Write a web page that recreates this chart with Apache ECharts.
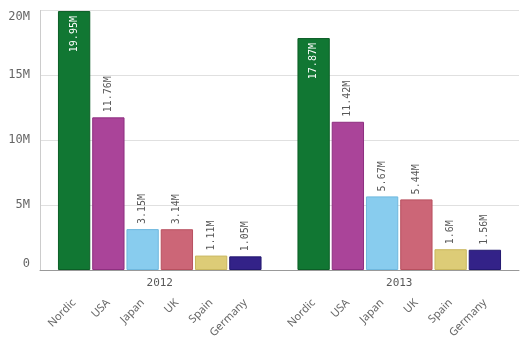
<!DOCTYPE html>
<html>
<head>
<meta charset="utf-8">
<script src="https://cdn.jsdelivr.net/npm/echarts@6/dist/echarts.min.js"></script>
<style>html,body{margin:0;padding:0;background:#fff}#c{width:528px;height:341px}</style>
</head>
<body>
<div id="c"></div>
<script>
var years = ['2012', '2013'];
var countries = ['Nordic', 'USA', 'Japan', 'UK', 'Spain', 'Germany'];
var nordic = [19.95, 17.87];
var usa = [11.76, 11.42];
var japan = [3.15, 5.67];
var uk = [3.14, 5.44];
var spain = [1.11, 1.6];
var germany = [1.05, 1.56];
var yTicks = [0, 5, 10, 15, 20];

var values = [nordic, usa, japan, uk, spain, germany];
var colors = ['#117733', '#aa4499', '#88ccee', '#cc6677', '#ddcc77', '#332288'];
var borders = ['#0b5e26', '#8e2f80', '#6fb8de', '#b8505f', '#c9b75e', '#231870'];
var mono = 'DejaVu Sans Mono';

var series = [];
countries.forEach(function (name, i) {
  series.push({
    name: name + '_lbl',
    type: 'bar',
    stack: name,
    data: years.map(function () { return 0; }),
    itemStyle: { color: 'rgba(0,0,0,0)' },
    silent: true,
    label: {
      show: true,
      position: 'bottom',
      distance: 31,
      rotate: 45,
      align: 'right',
      verticalAlign: 'middle',
      formatter: function () { return name; },
      fontFamily: 'Noto Sans',
      fontSize: 11,
      color: '#666666'
    }
  });
});
countries.forEach(function (name, i) {
  var isFirst = i === 0;
  series.push({
    name: name,
    type: 'bar',
    stack: name,
    data: values[i].map(function (v) { return v * 1e6; }),
    itemStyle: { color: colors[i], borderColor: borders[i], borderWidth: 1 },
    label: {
      show: true,
      position: isFirst ? 'insideTop' : 'top',
      distance: 5,
      rotate: 90,
      align: isFirst ? 'right' : 'left',
      verticalAlign: 'middle',
      fontFamily: mono,
      fontSize: 10,
      color: isFirst ? '#ffffff' : '#595959',
      formatter: function (p) { return (+(p.value / 1e6).toFixed(2)) + 'M'; }
    }
  });
});

var chart = echarts.init(document.getElementById('c'), null, { renderer: 'canvas' });
chart.setOption({
  animation: false,
  grid: { left: 40, right: 9, top: 10.4, bottom: 71, containLabel: false },
  xAxis: {
    type: 'category',
    data: years,
    axisLine: { lineStyle: { color: '#999999' } },
    axisTick: { show: false },
    axisLabel: { margin: 8, fontFamily: mono, fontSize: 11, color: '#595959' }
  },
  yAxis: {
    type: 'value',
    min: yTicks[0] * 1e6,
    max: yTicks[yTicks.length - 1] * 1e6,
    interval: 5e6,
    axisLine: { show: true, lineStyle: { color: '#cccccc' } },
    axisTick: { show: false },
    splitLine: { lineStyle: { color: '#e0e0e0' } },
    axisLabel: {
      margin: 10,
      fontFamily: mono,
      fontSize: 12,
      color: '#666666',
      verticalAlignMinLabel: 'bottom',
      verticalAlignMaxLabel: 'top',
      formatter: function (v) { return v === 0 ? '0' : (v / 1e6) + 'M'; }
    }
  },
  series: series.map(function (s) {
    s.barGap = '6%';
    s.barCategoryGap = '15%';
    return s;
  })
});
</script>
</body>
</html>
